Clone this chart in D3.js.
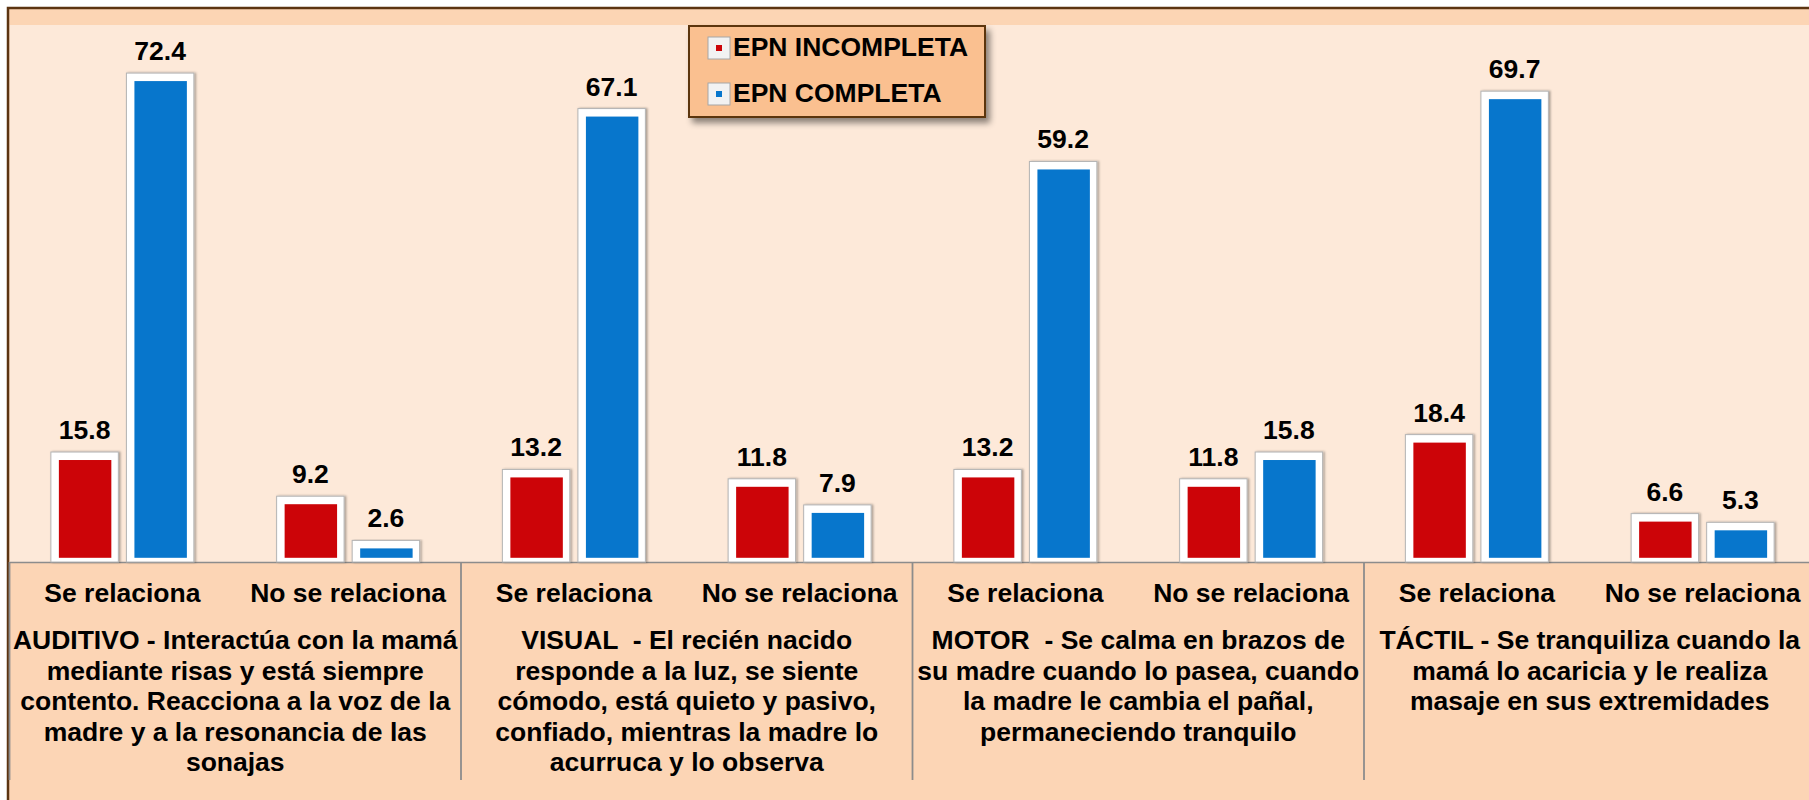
<!DOCTYPE html>
<html>
<head>
<meta charset="utf-8">
<script src="https://cdn.jsdelivr.net/npm/d3@7"></script>
<style>
  html, body { margin: 0; padding: 0; background: #ffffff; }
  svg { display: block; }
  text { font-family: Arial, "Liberation Sans", sans-serif; font-weight: bold; fill: #000; }
</style>
</head>
<body>
<svg id="chart" width="1809" height="800"></svg>
<script>
// ---------------- DATA ----------------
const subCategories = ["Se relaciona", "No se relaciona", "Se relaciona", "No se relaciona",
                       "Se relaciona", "No se relaciona", "Se relaciona", "No se relaciona"];
const groups = ["AUDITIVO", "VISUAL", "MOTOR", "TÁCTIL"];
const seriesNames = ["EPN INCOMPLETA", "EPN COMPLETA"];
const epnIncompleta = [15.8, 9.2, 13.2, 11.8, 13.2, 11.8, 18.4, 6.6];
const epnCompleta   = [72.4, 2.6, 67.1, 7.9, 59.2, 15.8, 69.7, 5.3];
const groupLabels = [
  ["AUDITIVO - Interactúa con la mamá", "mediante risas y está siempre", "contento. Reacciona a la voz de la", "madre y a la resonancia de las", "sonajas"],
  ["VISUAL  - El recién nacido", "responde a la luz, se siente", "cómodo, está quieto y pasivo,", "confiado, mientras la madre lo", "acurruca y lo observa"],
  ["MOTOR  - Se calma en brazos de", "su madre cuando lo pasea, cuando", "la madre le cambia el pañal,", "permaneciendo tranquilo"],
  ["TÁCTIL - Se tranquiliza cuando la", "mamá lo acaricia y le realiza", "masaje en sus extremidades"]
];
const colors = ["#cc0408", "#0776cc"];

// ---------------- LAYOUT ----------------
const svg = d3.select("#chart");
const W = 1809, H = 800;
const frameL = 8, frameT = 8;
const plotL = 9.5, plotR = 1815.5, plotTop = 25, baseY = 562;

const defs = svg.append("defs");
const f = defs.append("filter").attr("id", "shadow").attr("x", "-10%").attr("y", "-10%").attr("width", "130%").attr("height", "140%");
f.append("feDropShadow").attr("dx", 4).attr("dy", 5).attr("stdDeviation", 3).attr("flood-color", "#000").attr("flood-opacity", 0.45);
const bf = defs.append("filter").attr("id", "barshadow").attr("x", "-20%").attr("y", "-5%").attr("width", "150%").attr("height", "115%");
bf.append("feDropShadow").attr("dx", 1.5).attr("dy", 0).attr("stdDeviation", 1).attr("flood-color", "#000").attr("flood-opacity", 0.35);

// frame backgrounds
svg.append("rect").attr("x", frameL).attr("y", frameT).attr("width", W - frameL).attr("height", H - frameT).attr("fill", "#fcd5b4");
svg.append("rect").attr("x", plotL).attr("y", plotTop).attr("width", W - plotL).attr("height", baseY - plotTop).attr("fill", "#fde9d9");
svg.append("rect").attr("x", plotL).attr("y", baseY).attr("width", W - plotL).attr("height", H - baseY).attr("fill", "#fcd5b5");
// frame border
svg.append("path").attr("d", `M${frameL},${H} V${frameT} H${W}`).attr("fill", "none").attr("stroke", "#5c3411").attr("stroke-width", 2.5);

// scales
const keys = d3.range(subCategories.length);
const x0 = d3.scaleBand().domain(keys).range([plotL, plotR]).padding(0);
const bw = x0.bandwidth();
const x1 = d3.scaleBand().domain([0, 1]).range([bw / 2 - 71.5, bw / 2 + 71.5]).paddingInner(0.107).paddingOuter(0);
const y = d3.scaleLinear().domain([0, 80]).range([557.8, 22.2]);

// category axis
const axis = d3.axisBottom(x0).tickSize(0).tickSizeOuter(0).tickPadding(21)
  .tickFormat(i => subCategories[i]);
const ax = svg.append("g").attr("transform", `translate(0,${baseY})`).call(axis);
ax.select(".domain").attr("stroke", "#8c8c8c").attr("stroke-width", 1.5);
ax.selectAll("text").style("font-size", "26.5px").style("font-weight", "bold")
  .style("font-family", 'Arial, "Liberation Sans", sans-serif').attr("fill", "#000");

// group separators
const sepX = d3.range(groups.length).map(g => x0(g * 2));
svg.append("g").selectAll("line").data(sepX).join("line")
  .attr("x1", d => d).attr("x2", d => d).attr("y1", baseY).attr("y2", 780)
  .attr("stroke", "#8c8c8c").attr("stroke-width", 1.8);

// group labels
const gl = svg.append("g");
groupLabels.forEach((lines, g) => {
  const cx = x0(g * 2) + bw;
  const t = gl.append("text").attr("text-anchor", "middle").style("font-size", "26.5px").attr("xml:space", "preserve");
  lines.forEach((ln, i) => {
    t.append("tspan").attr("x", cx).attr("y", 649 + i * 30.6).text(ln);
  });
});

// bars
const data = [];
keys.forEach(k => {
  data.push({ k, s: 0, v: epnIncompleta[k] });
  data.push({ k, s: 1, v: epnCompleta[k] });
});
const bars = svg.append("g").selectAll("g").data(data).join("g")
  .attr("transform", d => `translate(${x0(d.k) + x1(d.s)},0)`);
const bwid = x1.bandwidth();
bars.append("rect")
  .attr("x", 0).attr("y", d => y(d.v)).attr("width", bwid).attr("height", d => baseY - y(d.v))
  .attr("fill", "#ffffff").attr("stroke", "#b4b4b4").attr("stroke-width", 1)
  .attr("filter", "url(#barshadow)");
bars.append("rect")
  .attr("x", 8).attr("y", d => y(d.v) + 8).attr("width", bwid - 15)
  .attr("height", d => Math.max(0, y(0) - (y(d.v) + 8)))
  .attr("fill", d => colors[d.s]);
bars.append("text")
  .attr("x", bwid / 2).attr("y", d => y(d.v) - 13)
  .attr("text-anchor", "middle").style("font-size", "26.5px")
  .text(d => d.v.toFixed(1));

// legend
const lg = svg.append("g");
lg.append("rect").attr("x", 689).attr("y", 26).attr("width", 296).attr("height", 91)
  .attr("fill", "#fac090").attr("stroke", "#5c3411").attr("stroke-width", 2).attr("filter", "url(#shadow)");
seriesNames.forEach((name, i) => {
  const yy = 37 + i * 46;
  lg.append("rect").attr("x", 708).attr("y", yy).attr("width", 22).attr("height", 22)
    .attr("fill", "#f2f2f2").attr("stroke", "#a6a6a6").attr("stroke-width", 1);
  lg.append("rect").attr("x", 716).attr("y", yy + 8).attr("width", 6).attr("height", 6).attr("fill", colors[i]);
  lg.append("text").attr("x", 733).attr("y", yy + 19).style("font-size", "26.5px").text(name);
});
</script>
</body>
</html>
